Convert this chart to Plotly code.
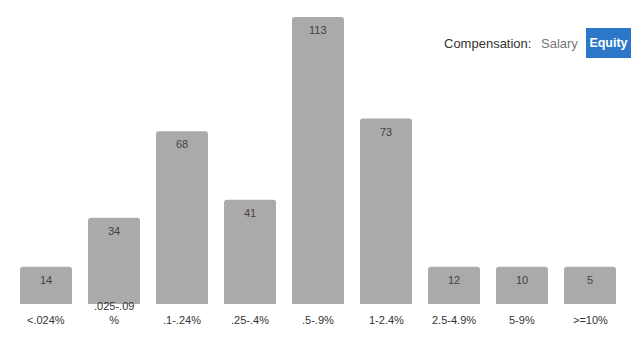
import plotly.graph_objects as go

categories = ["<.024%", ".025-.09<br>%", ".1-.24%", ".25-.4%", ".5-.9%",
              "1-2.4%", "2.5-4.9%", "5-9%", ">=10%"]
counts = [14, 34, 68, 41, 113, 73, 12, 10, 5]

W, H = 643, 342
ML, MR, MT, MB = 12, 19, 17, 38
PW, PH = W - ML - MR, H - MT - MB

# small bars get a minimum visible height (as in the original widget)
floor_h = max(counts) * 0.13
display = [max(c, floor_h) for c in counts]
xs = list(range(len(categories)))

FONT = "Liberation Sans, Arial, Helvetica, sans-serif"

fig = go.Figure(go.Bar(
    x=xs, y=display, marker=dict(color="#aaaaaa", line=dict(width=0)),
    hoverinfo="skip",
))

ann = []
for x, d, c, lab in zip(xs, display, counts, categories):
    ann.append(dict(x=x, y=d, xref="x", yref="y", text=str(c), showarrow=False,
                    yanchor="top", yshift=-5, font=dict(size=11, color="#4a4038", family=FONT)))
    ann.append(dict(x=x, y=0, xref="x", yref="y", text=lab, showarrow=False,
                    yanchor="bottom", yshift=-24, font=dict(size=11, color="#333333", family=FONT)))

def px(xp):
    return (xp - ML) / PW

def py(yp):
    return (H - MB - yp) / PH

ann.append(dict(x=px(533), y=py(43.5), xref="paper", yref="paper", text="Compensation:",
                showarrow=False, xanchor="right", yanchor="middle",
                font=dict(size=13, color="#333333", family=FONT)))
ann.append(dict(x=px(559.5), y=py(43.5), xref="paper", yref="paper", text="Salary",
                showarrow=False, xanchor="center", yanchor="middle",
                font=dict(size=13, color="#777777", family=FONT)))
ann.append(dict(x=px(608.5), y=py(43), xref="paper", yref="paper", text="<b>Equity</b>",
                showarrow=False, xanchor="center", yanchor="middle",
                width=45, height=30, align="center", valign="middle",
                bgcolor="#2b78c8", borderpad=0, borderwidth=0,
                font=dict(size=12.5, color="#ffffff", family=FONT)))

fig.update_layout(
    width=W, height=H, margin=dict(l=ML, r=MR, t=MT, b=MB, pad=0),
    paper_bgcolor="white", plot_bgcolor="white",
    bargap=16 / 68, barcornerradius=3, showlegend=False,
    xaxis=dict(range=[-0.5, len(categories) - 0.5], showticklabels=False,
               showgrid=False, zeroline=False, showline=False, ticks=""),
    yaxis=dict(range=[0, max(counts)], visible=False, showgrid=False, zeroline=False),
    annotations=ann,
)

fig.write_html("out.html")
